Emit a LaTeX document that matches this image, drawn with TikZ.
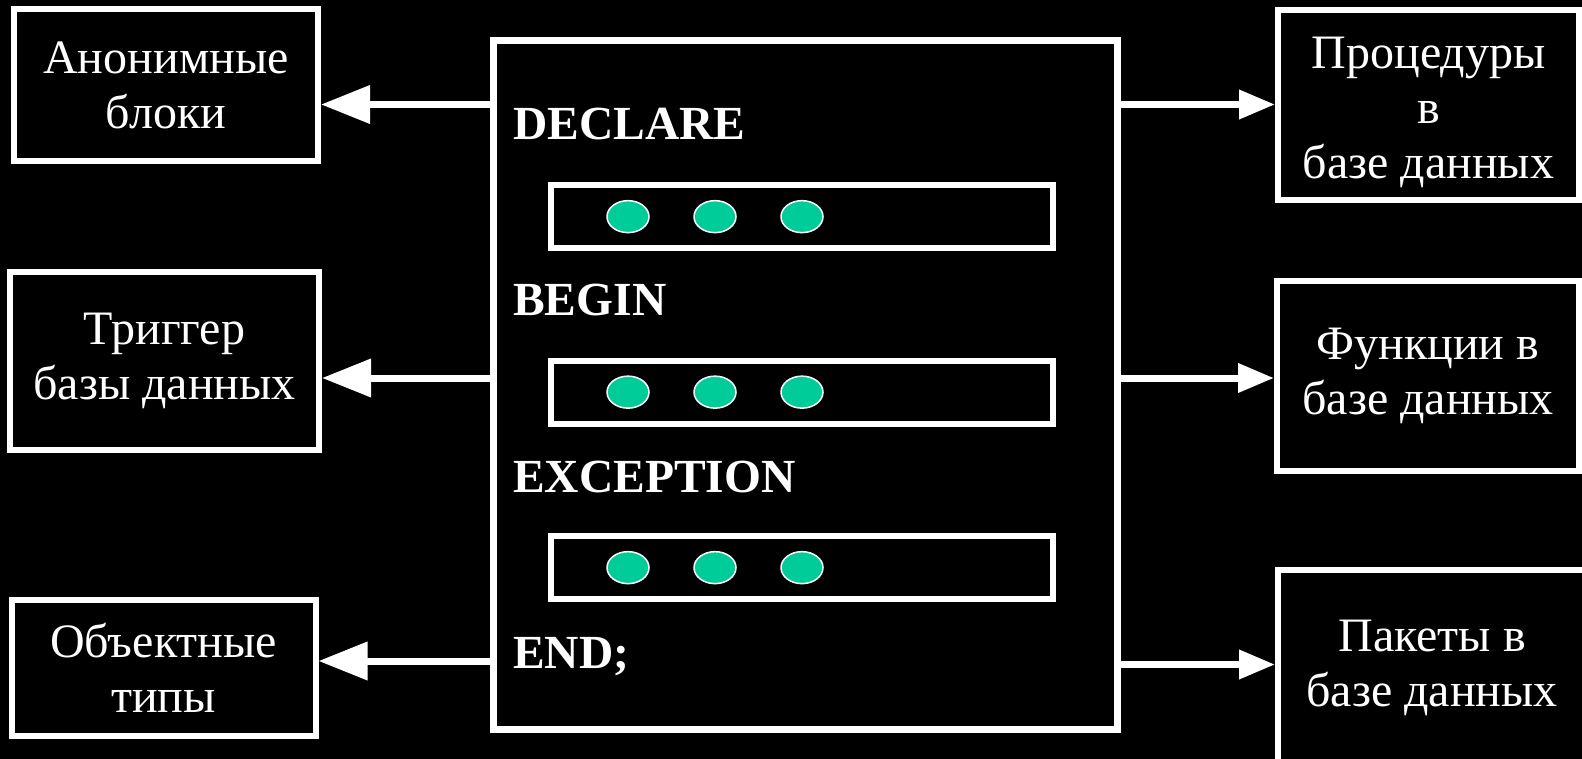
\documentclass[tikz,border=0pt]{standalone}
\usepackage{fontspec}
\setmainfont{Liberation Serif}
\usetikzlibrary{arrows.meta,shapes.geometric}
\begin{document}
\begin{tikzpicture}[x=1pt,y=-1pt,
  sidebox/.style={draw=white, line width=6pt, text=white, align=center,
    font=\fontsize{48}{55}\selectfont, inner sep=0pt},
  mainbox/.style={draw=white, line width=7pt, minimum width=624pt, minimum height=688.5pt, inner sep=0pt},
  barbox/.style={draw=white, line width=6pt, minimum width=502.5pt, minimum height=62.7pt, inner sep=0pt},
  codetext/.style={text=white, font=\bfseries\fontsize{47.5}{52}\selectfont, anchor=base west, inner sep=0pt},
  dotnode/.style={ellipse, draw=white, line width=1.5pt, fill=dotgreen, minimum width=42pt, minimum height=32pt, inner sep=0pt},
  larr/.style={draw=white, line width=7pt, -{Triangle[length=49pt,width=37pt]}},
  rarr/.style={draw=white, line width=7pt, -{Triangle[length=36pt,width=28pt]}}]
\definecolor{dotgreen}{RGB}{0,204,153}
\useasboundingbox (0,0) rectangle (1582,759);
\fill[black] (0,0) rectangle (1582,759);
\clip (0,0) rectangle (1582,759);

% central block
\node[mainbox] (main) at (805.5,384.75) {};
\node[codetext] (kdecl) at (513,140) {DECLARE};
\node[codetext] (kbegin) at (513,316) {BEGIN};
\node[codetext] (kexc) at (513,492) {EXCEPTION};
\node[codetext] (kend) at (513,668) {END;};

\node[barbox] (bar1) at (801.75,216.65) {};
\node[barbox] (bar2) at (801.75,392.15) {};
\node[barbox] (bar3) at (801.75,567.65) {};
\foreach \b/\y in {1/216.65,2/392.15,3/567.65}{
  \node[dotnode] (d\b a) at (628,\y) {};
  \node[dotnode] (d\b b) at (715,\y) {};
  \node[dotnode] (d\b c) at (802,\y) {};
}

% left boxes
\node[sidebox, minimum width=304pt, minimum height=152pt] (lb1) at (166,85) {Анонимные\\блоки};
\node[sidebox, minimum width=309pt, minimum height=178pt] (lb2) at (164.5,361) {Триггер\\базы данных};
\node[sidebox, minimum width=304pt, minimum height=135.5pt] (lb3) at (163.5,668) {Объектные\\типы};

% right boxes
\node[sidebox, minimum width=301pt, minimum height=190pt] (rb1) at (1428.5,105) {\rule{0pt}{46pt}Процедуры\\в\\базе данных};
\node[sidebox, minimum width=302pt, minimum height=190pt] (rb2) at (1428,376) {Функции в\\базе данных};
\node[sidebox, minimum width=308pt, minimum height=196pt] (rb3) at (1432,668) {Пакеты в\\базе данных};

% connectors
\coordinate (ml1) at (490,104.5);
\coordinate (ml2) at (490,378);
\coordinate (ml3) at (490,661);
\coordinate (mr1) at (1121,104.5);
\coordinate (mr2) at (1121,378);
\coordinate (mr3) at (1121,664.5);
\draw[larr] (ml1) -- (ml1 -| lb1.east);
\draw[larr] (ml2) -- (ml2 -| lb2.east);
\draw[larr] (ml3) -- (ml3 -| lb3.east);
\draw[rarr] (mr1) -- (mr1 -| rb1.west);
\draw[rarr] (mr2) -- (mr2 -| rb2.west);
\draw[rarr] (mr3) -- (mr3 -| rb3.west);
\end{tikzpicture}
\end{document}
